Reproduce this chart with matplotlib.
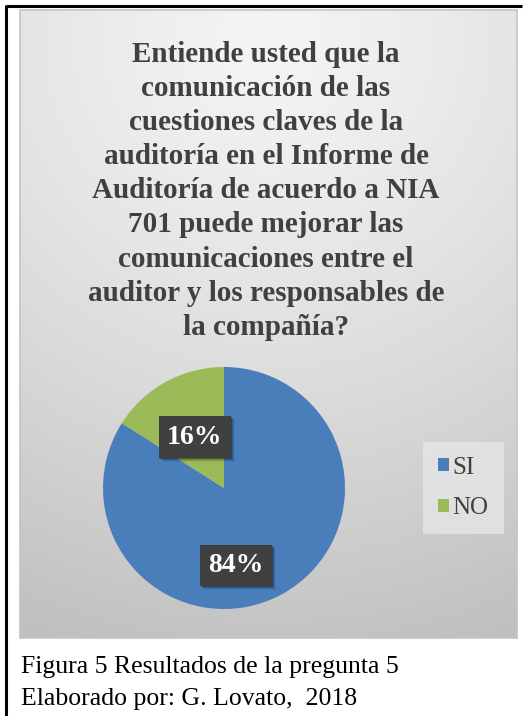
import numpy as np
import matplotlib
matplotlib.use("Agg")
import matplotlib.pyplot as plt
from matplotlib.patches import Rectangle

# survey answers, question 5
labels = ["SI", "NO"]
shares = [84, 16]
colors = ["#4a7ebb", "#9bbb59"]

title_lines = [
    "Entiende usted que la",
    "comunicación de las",
    "cuestiones claves de la",
    "auditoría en el Informe de",
    "Auditoría de acuerdo a NIA",
    "701 puede mejorar las",
    "comunicaciones entre el",
    "auditor y los responsables de",
    "la compañía?",
]
caption = ["Figura 5 Resultados de la pregunta 5",
           "Elaborado por: G. Lovato,  2018"]

W, H = 527, 716
fig = plt.figure(figsize=(W / 100, H / 100), dpi=100)
fig.patch.set_facecolor("white")

# background axes in pixel coordinates
bg = fig.add_axes([0, 0, 1, 1])
bg.set_xlim(0, W)
bg.set_ylim(H, 0)
bg.axis("off")

# frame lines (top and left)
bg.plot([6, 522], [6, 6], color="black", lw=2.2, solid_capstyle="butt")
bg.plot([6, 6], [5, H], color="black", lw=2.2, solid_capstyle="butt")

# gray gradient panel
px0, px1, py0, py1 = 20, 517, 10, 638
yy, xx = np.mgrid[0:1:300j, 0:1:300j]
r = np.sqrt((xx - 0.5) ** 2 * 0.6 + (yy - 0.05) ** 2)
shade = 244 - 52 * np.clip(r / 1.0, 0, 1) ** 1.3
img = np.dstack([shade, shade, shade]) / 255.0
bg.imshow(img, extent=[px0, px1, py1, py0], aspect="auto", zorder=1,
          interpolation="bilinear")
bg.add_patch(Rectangle((px0, py0), px1 - px0, py1 - py0, fill=False,
                       ec="#c4c4c4", lw=1.2, zorder=2))

# chart title
for i, line in enumerate(title_lines):
    bg.text(266, 62 + i * 34.1, line, ha="center", va="baseline",
            fontsize=21, fontweight="bold", color="#404040",
            family="Liberation Serif", zorder=3)

# caption under the chart
for i, line in enumerate(caption):
    bg.text(21, 673 + i * 32, line, ha="left", va="baseline",
            fontsize=18.5, color="black", family="Liberation Serif")

# pie chart
cx, cy, rad = 224, 488, 121
pax = fig.add_axes([(cx - rad) / W, (H - cy - rad) / H, 2 * rad / W, 2 * rad / H])
pax.set_facecolor("none")
wedges, _, autotexts = pax.pie(shares, colors=colors, startangle=90,
                               counterclock=False, radius=1,
                               autopct=lambda p: "%d%%" % round(p),
                               wedgeprops=dict(linewidth=0))
pax.set_xlim(-1, 1)
pax.set_ylim(-1, 1)
pax.set_aspect("equal")

label_pos = [(0.10, -0.64), (-0.24, 0.42)]
for t, pos in zip(autotexts, label_pos):
    t.set_position(pos)
    t.set_color("white")
    t.set_fontsize(20)
    t.set_fontweight("bold")
    t.set_family("Liberation Serif")
    t.set_ha("center")
    t.set_va("center")
    t.set_zorder(5)
    t.set_bbox(dict(boxstyle="square,pad=0.3", fc="#404040", ec="none"))

# soft drop shadows behind the label boxes
fig.canvas.draw()
for t in autotexts:
    ext = t.get_bbox_patch().get_window_extent()
    for k, a in [(1, 0.25), (2, 0.17), (3, 0.1), (4, 0.05)]:
        pax.add_patch(Rectangle((ext.x0 + k, ext.y0 - k), ext.width, ext.height,
                                transform=None, fc="black", ec="none",
                                alpha=a, zorder=4))

# legend
handles = [Rectangle((0, 0), 1, 1, fc=c, ec="none") for c in colors]
leg = fig.legend(handles, labels, loc="center", bbox_to_anchor=(463 / W, 1 - 488 / H),
                 frameon=True, fancybox=False, handlelength=0.45, handleheight=0.45,
                 handletextpad=0.15, labelspacing=0.75, borderpad=0.6,
                 prop=dict(family="Liberation Serif", size=18))
leg.get_frame().set_facecolor("#e6e6e6")
leg.get_frame().set_edgecolor("none")
for txt in leg.get_texts():
    txt.set_color("#404040")

fig.savefig("out.png", dpi=100)
